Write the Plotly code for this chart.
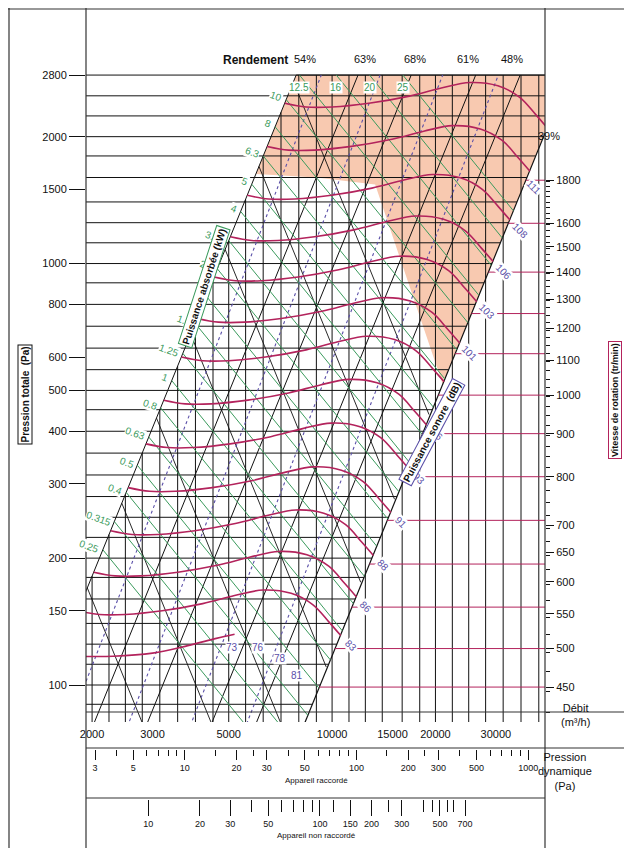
import numpy as np
import plotly.graph_objects as go

W, H = 632, 848
OFF = 8  # page body margin of the browser
FW, FH = W - OFF, H - OFF

# fan speeds (tr/min) of the drawn curves
rpm_curves = [450, 500, 560, 630, 710, 800, 900, 1000, 1120, 1250, 1400, 1600, 1800]
sound_db = [83, 86, 88, 91, 93, 96, 98, 101, 103, 106, 108, 111, 113]
# base fan curve at 450 tr/min (m3/h, Pa)
base_q = [1820, 2100, 2500, 3200, 4200, 5200, 6300, 7600, 8800, 9800, 10600]
base_p = [150, 147, 147, 150, 156, 163, 168, 165, 155, 141, 131]
# partial lowest curve (400 tr/min)
low_q = [1800, 2300, 3000, 3800, 4600, 5200]
low_p = [117, 117, 119, 124, 129, 132]

# efficiency lines: flow at 2800 Pa
rend_q = [7860, 11900, 17000, 26200, 35300]
rend_lbl = ["54%", "63%", "68%", "61%", "48%"]
right_q0, right_p0 = 9110, 97.3  # right boundary (39%)

power_kw = [0.25, 0.315, 0.4, 0.5, 0.63, 0.8, 1, 1.25, 1.6, 2, 2.5, 3.15, 4, 5, 6.3, 8, 10, 12.5, 16, 20, 25]
power_lbl = ["0.25", "0.315", "0.4", "0.5", "0.63", "0.8", "1", "1.25", "1.6", "2", "2.5", "3.15", "4", "5",
             "6.3", "8", "10", "12.5", "16", "20", "25"]
dotted_q = [9300, 13800, 21000, 30500]
desc_p = [170, 270, 430, 680, 1080, 1700, 2700]

grid_q = [2000, 2240, 2500, 2800, 3150, 3550, 4000, 4500, 5000, 5600, 6300, 7100, 8000, 9000, 10000, 11200,
          12500, 14000, 16000, 18000, 20000, 22400, 25000, 28000, 31500, 35500, 40000]
grid_p = [90, 100, 112, 125, 140, 160, 180, 200, 224, 250, 280, 315, 355, 400, 450, 500, 560, 630, 710, 800,
          900, 1000, 1120, 1250, 1400, 1600, 1800, 2000, 2240, 2500, 2800]
p_ticks = [100, 150, 200, 300, 400, 500, 600, 800, 1000, 1500, 2000, 2800]
rpm_ticks = [450, 500, 550, 600, 650, 700, 800, 900, 1000, 1100, 1200, 1300, 1400, 1500, 1600, 1800]
q_ticks = [2000, 3000, 5000, 10000, 15000, 20000, 30000]
pd1_ticks = [3, 5, 10, 20, 30, 50, 100, 200, 300, 500, 1000]
pd2_ticks = [10, 20, 30, 50, 100, 150, 200, 300, 500, 700]
bottom_db = [73, 76, 78, 81]
bottom_db_q = [5120, 6100, 7070, 7890]
bottom_db_p = [128, 128, 121, 110]

Q_MIN, Q_MAX = 1920, 41700
P_MIN = 81.7
P_TOP = 2800
a_left = 2800 / 7860 ** 2


def px(x):
    return (x - OFF) / FW


def py(y):
    return 1 - (y - OFF) / FH


def p_left(q):
    return a_left * q * q


def q_left(p):
    return np.sqrt(p / a_left)


def q_right(p):
    return right_q0 * np.sqrt(p / right_p0)


def p_from_rpm_axis(n):
    # the rpm scale (2x steeper) shares the page with the pressure scale
    ypix = 688 - 843 * np.log10(n / 450)
    return 100 * 10 ** ((685 - ypix) / 421)


BLACK = "#111111"
GREEN = "#3a9a5c"
RED = "#b3235c"
BLUE = "#5a4fa8"
FONT = "Liberation Sans Narrow, Liberation Sans, sans-serif"

fig = go.Figure()


def line(x, y, color, width=1, dash=None, yaxis="y", shape="linear"):
    fig.add_trace(go.Scatter(x=x, y=y, mode="lines", yaxis=yaxis, hoverinfo="skip",
                             line=dict(color=color, width=width, dash=dash, shape=shape), showlegend=False))


# orange zone
zone_q = [7860, 6000, 9000, 13350, 15800, 18100, 21000]
zone_p = [P_TOP, 1630, 1600, 1540, 1025, 740, float(right_p0 * (21000 / right_q0) ** 2)]
qq = list(np.geomspace(21000, Q_MAX, 10))
fig.add_trace(go.Scatter(x=zone_q + qq + [Q_MAX, 7860],
                         y=zone_p + [right_p0 * (q / right_q0) ** 2 for q in qq] + [P_TOP, P_TOP],
                         fill="toself", fillcolor="#f8c9b0", line=dict(width=0), mode="lines",
                         hoverinfo="skip", showlegend=False))

# vertical grid (up to left boundary / 2800)
for q in grid_q:
    line([q, q], [P_MIN, min(P_TOP, p_left(q))], BLACK, 1)
# horizontal grid (to right boundary)
for p in grid_p:
    line([Q_MIN * 0.97, q_right(p)], [p, p], BLACK, 1)
line([7860, Q_MAX], [P_TOP, P_TOP], BLACK, 1)

# rpm pink lines
for n in rpm_curves:
    p = p_from_rpm_axis(n)
    line([q_right(p), Q_MAX], [n, n], RED, 1, yaxis="y2")

# rising efficiency lines
for q0 in rend_q:
    qs = np.geomspace(1500, q0, 20)
    line(qs, P_TOP * (qs / q0) ** 2, BLACK, 1)
qs = np.geomspace(8000, Q_MAX, 20)
line(qs, right_p0 * (qs / right_q0) ** 2, BLACK, 1.2)

# descending black lines
for ps in desc_p:
    qs0 = q_left(ps)
    qs = np.geomspace(qs0, qs0 * 3, 30)
    pp = ps * (qs / qs0) ** -2
    keep = pp >= right_p0 * (qs / right_q0) ** 2
    line(qs[keep], pp[keep], BLACK, 0.9)

# dotted efficiency curves
for q0 in dotted_q:
    qs = np.geomspace(1500, q0, 20)
    line(qs, P_TOP * (qs / q0) ** 2.1, BLUE, 1.1, dash="dot")

# green power lines
eta = 0.5
for kw, lbl in zip(power_kw, power_lbl):
    c = kw * 3.6e6 * eta
    qs0 = (c / a_left) ** (1 / 3)
    ps0 = c / qs0
    if ps0 > P_TOP:
        ps0 = P_TOP
        qs0 = c / P_TOP
    qe = (c * right_q0 ** 2 / right_p0) ** (1 / 3)
    qs = np.geomspace(qs0, qe, 20)
    line(qs, c / qs, GREEN, 1)
    top = ps0 >= P_TOP
    fig.add_annotation(x=np.log10(qs0), y=np.log10(ps0), text=lbl, showarrow=False,
                       xanchor="center" if top else "right", xshift=0 if top else -1,
                       yshift=-12 if top else 3, font=dict(family=FONT, size=10, color=GREEN),
                       bgcolor="white", borderpad=0, textangle=0 if top else 20)

# fan curves
for n, db in zip(rpm_curves, sound_db):
    k = n / 450
    cq = [q * k for q in base_q]
    cp = [p * k * k for p in base_p]
    line(cq, cp, RED, 1.6, shape="spline")
    fig.add_annotation(x=np.log10(cq[-1]), y=np.log10(cp[-1]), text=str(db), showarrow=False,
                       xshift=10 if n < 1500 else 4, yshift=-10 if n < 1500 else -16, textangle=45,
                       font=dict(family=FONT, size=10, color=BLUE), bgcolor="white", borderpad=0)
line(low_q, low_p, RED, 1.6, shape="spline")
for db, q, p in zip(bottom_db, bottom_db_q, bottom_db_p):
    fig.add_annotation(x=np.log10(q), y=np.log10(p), text=str(db), showarrow=False, yshift=-8,
                       font=dict(family=FONT, size=10, color=BLUE), bgcolor="white", borderpad=0)

# secondary axes dummy traces
fig.add_trace(go.Scatter(x=[None], y=[None], xaxis="x2", showlegend=False))
fig.add_trace(go.Scatter(x=[None], y=[None], xaxis="x3", showlegend=False))
fig.add_trace(go.Scatter(x=[None], y=[None], xaxis="x4", showlegend=False))

pd1_at = lambda q: 3 * (q / 2040) ** 2
pd2_at = lambda q: 10 * (q / 2915) ** 2

axfont = dict(family=FONT, size=11, color=BLACK)
dom = [px(86), px(545)]
fig.update_layout(
    width=FW, height=FH, margin=dict(l=0, r=0, t=0, b=0, autoexpand=False),
    paper_bgcolor="white", plot_bgcolor="white",
    xaxis=dict(type="log", range=[np.log10(Q_MIN), np.log10(Q_MAX)], domain=dom,
               showgrid=False, showticklabels=False, zeroline=False, anchor="y", automargin=False),
    xaxis2=dict(type="log", range=[np.log10(Q_MIN), np.log10(Q_MAX)], domain=dom,
                overlaying="x", anchor="free", position=py(726), showgrid=False, tickvals=q_ticks,
                ticktext=[str(v) for v in q_ticks], ticks="", tickfont=axfont, automargin=False),
    xaxis3=dict(type="log", range=[np.log10(pd1_at(Q_MIN)), np.log10(pd1_at(Q_MAX))], domain=dom,
                overlaying="x", anchor="free", position=py(749), showgrid=False, tickvals=pd1_ticks,
                ticks="outside", ticklen=10, tickcolor=BLACK, tickfont=dict(family=FONT, size=9, color=BLACK),
                automargin=False,
                minor=dict(tickvals=[4, 6, 7, 8, 9, 15, 25, 40, 60, 70, 80, 90, 150, 250, 400, 600, 700, 800, 900],
                           ticks="outside", ticklen=6, tickcolor=BLACK)),
    xaxis4=dict(type="log", range=[np.log10(pd2_at(Q_MIN)), np.log10(pd2_at(Q_MAX))], domain=dom,
                overlaying="x", anchor="free", position=py(799), showgrid=False, tickvals=pd2_ticks,
                ticks="outside", ticklen=16, tickcolor=BLACK, tickfont=dict(family=FONT, size=9, color=BLACK),
                automargin=False,
                minor=dict(tickvals=[40, 60, 70, 80, 90, 120, 250, 400, 450, 550, 600],
                           ticks="outside", ticklen=12, tickcolor=BLACK)),
    yaxis=dict(type="log", range=[np.log10(P_MIN), np.log10(2800 * 10 ** (67 / 421))], domain=[py(722), py(8)],
               showgrid=False, zeroline=False, tickvals=p_ticks, ticktext=[str(v) for v in p_ticks],
               ticks="outside", ticklen=16, tickcolor=BLACK, tickfont=axfont, anchor="x", automargin=False),
    yaxis2=dict(type="log", range=[np.log10(409), np.log10(450 * 10 ** (680 / 843))], domain=[py(722), py(8)],
                overlaying="y", side="right", anchor="x", showgrid=False, zeroline=False, automargin=False,
                tickvals=rpm_ticks, ticks="outside", ticklen=8, tickcolor=BLACK, tickfont=axfont,
                minor=dict(tickvals=list(range(420, 1800, 25)), ticks="outside", ticklen=4, tickcolor=BLACK)),
)

# frame lines
shapes = [
    dict(x0=px(86), x1=px(86), y0=py(848), y1=py(8)),
    dict(x0=px(545), x1=px(545), y0=py(848), y1=py(8)),
    dict(x0=px(86), x1=px(632), y0=py(712), y1=py(712)),
    dict(x0=px(86), x1=px(632), y0=py(748), y1=py(748)),
    dict(x0=px(86), x1=px(545), y0=py(798), y1=py(798)),
    dict(x0=px(8), x1=px(632), y0=py(9), y1=py(9)),
    dict(x0=px(9), x1=px(9), y0=py(848), y1=py(8)),
]
for s in shapes:
    fig.add_shape(type="line", xref="paper", yref="paper", line=dict(color="#333", width=1.2), **s)


def text(x, y, t, size=11, **kw):
    fig.add_annotation(x=px(x), y=py(y), xref="paper", yref="paper", text=t, showarrow=False,
                       font=dict(family=FONT, size=size, color=kw.pop("color", BLACK)), **kw)


text(255, 51, "<b>Rendement</b>", 12)
for lbl, x in zip(rend_lbl, [305, 365, 428, 481, 525]):
    text(x, 51, lbl)
text(562, 128, "39%")
text(592, 730, "Débit<br>(m³/h)", 11)
text(594, 794, "Pression<br>dynamique<br>(Pa)", 11)
text(316, 787, "Appareil raccordé", 8)
text(316, 842, "Appareil non raccordé", 8)
text(18, 395, "<b>Pression totale  (Pa)</b>", 10, textangle=-90, bgcolor="white",
     bordercolor=BLACK, borderwidth=1, borderpad=1)
text(622, 400, "<b>Vitesse de rotation (tr/min)</b>", 9, textangle=-90, bordercolor=RED, borderwidth=1)
text(178, 225, "<b>Puissance absorbée (kW)</b>", 10, textangle=-72, bgcolor="white",
     bordercolor=GREEN, borderwidth=1, borderpad=1)
text(465, 432, "<b>Puissance sonore  (dB)</b>", 10, textangle=-62, bgcolor="white",
     bordercolor=BLUE, borderwidth=1, borderpad=1)

fig.write_html("out.html")
